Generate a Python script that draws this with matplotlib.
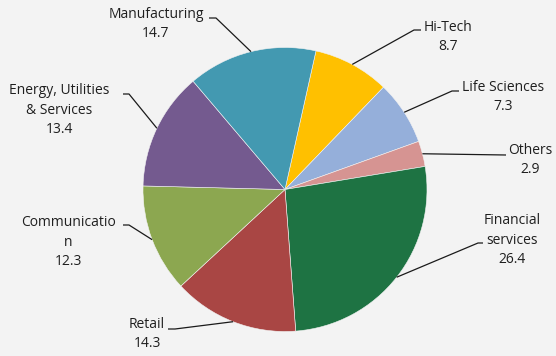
import numpy as np
import matplotlib
matplotlib.use("Agg")
import matplotlib.pyplot as plt

W, H = 556, 356

categories = ["Hi-Tech", "Life Sciences", "Others", "Financial\nservices", "Retail",
              "Communicatio\nn", "Energy, Utilities\n& Services", "Manufacturing"]
values = [8.7, 7.3, 2.9, 26.4, 14.3, 12.3, 13.4, 14.7]
colors = ["#FFC000", "#95AFDA", "#D69492", "#1E7343", "#A94644",
          "#8CA750", "#745A8F", "#4399B1"]

# label centres and the leader line points next to the text (image pixels, y down)
label_pos = [(448, 37), (503, 97), (530, 160), (512, 240), (147, 334),
             (68, 242), (59, 110), (156, 24)]
line_end = [[(421, 30), (414, 30)], [(459, 91), (452, 91)], [(506, 155)],
            [(483, 243), (478, 243)], [(168, 329), (175, 329)],
            [(123, 225), (129, 225)], [(123, 94), (129, 94)], [(209, 18), (216, 18)]]

cx, cy, r = 285, 189.5, 142

plt.rcParams['font.family'] = ['Open Sans', 'DejaVu Sans']
fig = plt.figure(figsize=(W / 100, H / 100), dpi=100, facecolor="#F3F3F3")
ax = fig.add_axes([0, 0, 1, 1])
ax.set_facecolor("#F3F3F3")

wedges, _ = ax.pie(values, colors=colors, startangle=77.4, counterclock=False,
                   center=(cx, H - cy), radius=r,
                   wedgeprops=dict(edgecolor="#F3F3F3", linewidth=0.4))
ax.set_xlim(0, W)
ax.set_ylim(0, H)
ax.set_aspect("equal")
ax.axis("off")

for w, cat, v, (tx, ty), pts in zip(wedges, categories, values, label_pos, line_end):
    mid = np.deg2rad((w.theta1 + w.theta2) / 2)
    ex = cx + r * np.cos(mid)
    ey = H - cy + r * np.sin(mid)
    xs = [p[0] for p in pts] + [ex]
    ys = [H - p[1] for p in pts] + [ey]
    ax.plot(xs, ys, color="#1a1a1a", lw=0.9, solid_capstyle="butt")
    ax.text(tx, H - ty, f"{cat}\n{v}", ha="center", va="center", fontsize=10,
            color="#1f1f1f", linespacing=1.45)

fig.savefig("out.png", dpi=100, facecolor=fig.get_facecolor())
